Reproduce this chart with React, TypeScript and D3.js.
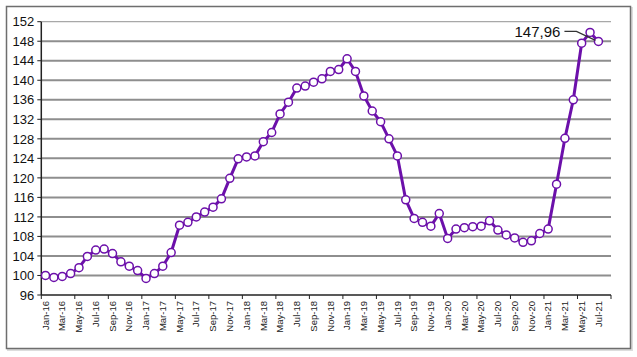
import React from "react";
import * as d3 from "d3";

const monthNames = ["Jan", "Feb", "Mar", "Apr", "May", "Jun", "Jul", "Aug", "Sep", "Oct", "Nov", "Dec"];
const years = ["16", "17", "18", "19", "20", "21"];
const categories: string[] = [];
years.forEach((y) => monthNames.forEach((m) => categories.push(`${m}-${y}`)));
const axisCategories = categories.slice(0, 68);

const values = [
  100.0, 99.6, 99.8, 100.4, 101.6, 103.9, 105.2, 105.4, 104.5, 102.8, 101.9, 101.0,
  99.4, 100.4, 101.9, 104.7, 110.3, 110.9, 112.0, 113.0, 114.0, 115.7, 119.9, 123.9,
  124.3, 124.5, 127.4, 129.3, 133.1, 135.5, 138.4, 138.8, 139.6, 140.3, 141.8, 142.2,
  144.4, 141.8, 136.8, 133.7, 131.5, 128.0, 124.5, 115.5, 111.7, 110.9, 110.1, 112.7,
  107.6, 109.5, 109.8, 110.0, 110.1, 111.2, 109.3, 108.3, 107.7, 106.8, 107.1, 108.6,
  109.5, 118.7, 128.1, 136.0, 147.6, 149.8, 147.96,
];
const yTicks = d3.range(96, 153, 4);
const annotationText = "147,96";

export default function App() {
  const left = 41.3, right = 611, top = 21.7, bottom = 295;
  const x = d3.scaleBand<string>().domain(axisCategories).range([left, right]).padding(0);
  const y = d3.scaleLinear().domain([96, 152]).range([bottom, top]);
  const cx = (i: number) => (x(axisCategories[i]) as number) + x.bandwidth() / 2;
  const line = d3.line<number>().x((_, i) => cx(i)).y((d) => y(d));
  const color = "#6C10AA";
  const last = values.length - 1;
  const lx = cx(last), ly = y(values[last]);
  return (
    <svg width={637} height={357} style={{ position: "absolute", left: 0, top: 0, display: "block" }}
      fontFamily="'Liberation Sans', Arial, sans-serif">
      <rect x={0} y={0} width={637} height={357} fill="#fff" />
      <rect x={8} y={8} width={624} height={342} fill="none" stroke="#ddd" strokeWidth={2} />
      <rect x={6.5} y={6.5} width={624} height={342} fill="#fff" stroke="#6e6e6e" strokeWidth={1.5} />
      {yTicks.map((t) => (
        <g key={t}>
          {t > 96 && (
            <line x1={left} x2={right} y1={y(t)} y2={y(t)} stroke={t === 152 ? "#a8a8a8" : "#8e8e8e"}
              strokeWidth={t === 152 ? 1.3 : 2} />
          )}
          <line x1={left - 4} x2={left} y1={y(t)} y2={y(t)} stroke="#222" strokeWidth={1} />
          <text x={left - 7} y={y(t)} dy="0.36em" textAnchor="end" fontSize={13} fill="#111">{t}</text>
        </g>
      ))}
      {d3.range(0, axisCategories.length + 1, 4).map((i) => {
        const xx = i < axisCategories.length ? (x(axisCategories[i]) as number) : right;
        return <line key={i} x1={xx} x2={xx} y1={bottom} y2={bottom + 4} stroke="#222" strokeWidth={1} />;
      })}
      <line x1={left} x2={right} y1={bottom} y2={bottom} stroke="#222" strokeWidth={1.5} />
      <line x1={left} x2={left} y1={top} y2={bottom} stroke="#222" strokeWidth={1.5} />
      {axisCategories.map((c, i) =>
        i % 2 === 0 && i < 67 ? (
          <text key={c} transform={`translate(${cx(i) + 3.2},${bottom + 6}) rotate(-90)`} textAnchor="end"
            fontSize={9.5} fill="#222">{c}</text>
        ) : null
      )}
      <path d={line(values) || ""} fill="none" stroke={color} strokeWidth={3} strokeLinejoin="round" />
      {values.map((v, i) => (
        <circle key={i} cx={cx(i)} cy={y(v)} r={4} fill="#fff" stroke={color} strokeWidth={1.5} />
      ))}
      <polyline points={`${lx - 34},${ly - 10} ${lx - 22},${ly - 10} ${lx - 3},${ly - 1}`} fill="none"
        stroke="#333" strokeWidth={1.2} />
      <text x={lx - 38} y={ly - 10} dy="0.36em" textAnchor="end" fontSize={15} fill="#111">{annotationText}</text>
    </svg>
  );
}
